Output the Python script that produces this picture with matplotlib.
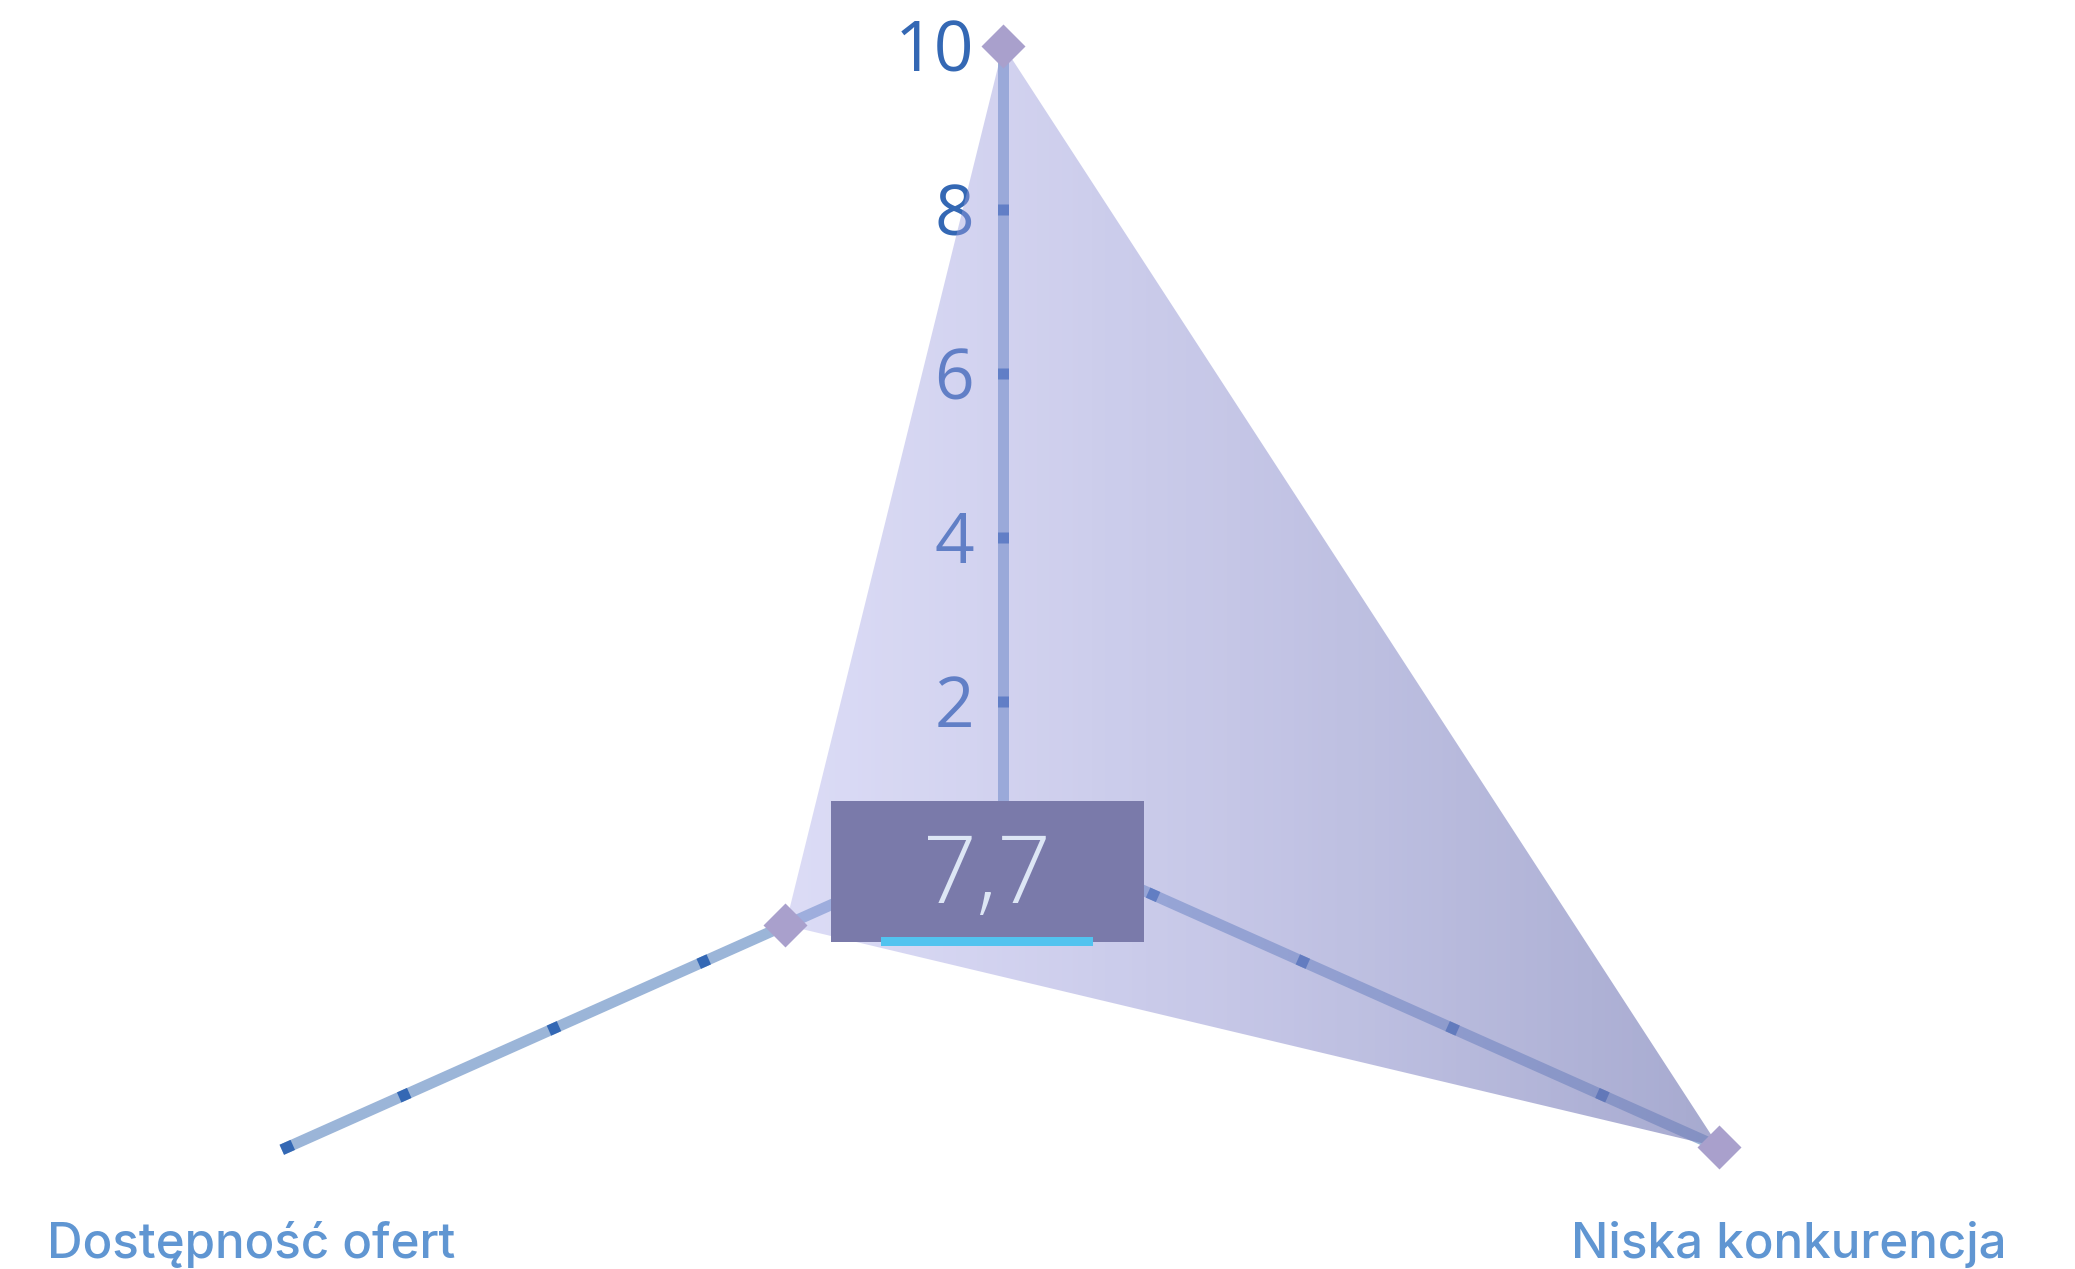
import numpy as np
import matplotlib
matplotlib.use("Agg")
import matplotlib.pyplot as plt
from matplotlib.patches import Polygon, Rectangle

# ---------------- data ----------------
categories = ["", "Niska konkurencja", "Dostępność ofert"]   # top, right, left
values = [10, 10, 3]
tick_values = [2, 4, 6, 8]
tick_labels = ["2", "4", "6", "8", "10"]
max_value = 10

# ---------------- layout (pixel-like canvas) ----------------
W, H = 2075, 1269
fig = plt.figure(figsize=(W / 100, H / 100), dpi=100)
ax = fig.add_axes([0, 0, 1, 1])
ax.set_xlim(0, W)
ax.set_ylim(H, 0)
ax.axis("off")

# axis geometry: origin, direction angle (deg, screen, y down), px per unit for data
ang_b = np.degrees(np.arctan(0.446))
axes_geom = [
    dict(origin=(1003.3, 865.6), angle=-90.0, scale=82.0, length=820.0),          # top
    dict(origin=(1003.3, 828.0), angle=ang_b, scale=78.4, length=784.0),          # right
    dict(origin=(1003.3, 828.0), angle=180.0 - ang_b, scale=79.5, length=790.0),  # left
]
tick_scale = 82.0

LINE_C = "#9bb5d8"
TICK_C = "#3468b4"
LW = 11 / 100 * 72


def pt(g, r):
    a = np.radians(g["angle"])
    return g["origin"][0] + r * np.cos(a), g["origin"][1] + r * np.sin(a)


# axis lines and ticks
for i, g in enumerate(axes_geom):
    x0, y0 = pt(g, 0)
    x1, y1 = pt(g, g["length"])
    ax.plot([x0, x1], [y0, y1], color=LINE_C, lw=LW, solid_capstyle="butt", zorder=1)
    for tv in tick_values:
        r = tv * tick_scale
        xa, ya = pt(g, r - 5.5)
        xb, yb = pt(g, r + 5.5)
        ax.plot([xa, xb], [ya, yb], color=TICK_C, lw=LW, solid_capstyle="butt", zorder=1.1)
    if i > 0:
        xa, ya = pt(g, g["length"] - 12)
        xb, yb = pt(g, g["length"])
        ax.plot([xa, xb], [ya, yb], color=TICK_C, lw=LW, solid_capstyle="butt", zorder=1.1)

# tick labels on top axis
gt = axes_geom[0]
for tv, lab in zip(tick_values + [max_value], tick_labels):
    x, y = pt(gt, tv * gt["scale"])
    ax.text(x - 29, y - 1, lab, ha="right", va="center_baseline", fontsize=50,
            family=["Open Sans", "DejaVu Sans"], color=TICK_C, zorder=1.2)

# data points
pts = [pt(g, v * g["scale"]) for g, v in zip(axes_geom, values)]
px = np.array([p[0] for p in pts])
py = np.array([p[1] for p in pts])

# gradient fill
poly = Polygon(np.column_stack([px, py]), closed=True, facecolor="none", edgecolor="none")
ax.add_patch(poly)
c_left = np.array([165, 165, 232]) / 255
c_right = np.array([121, 126, 183]) / 255
a_left, a_right = 0.39, 0.66
n = 256
t = np.linspace(0, 1, n)
grad = np.zeros((1, n, 4))
grad[0, :, :3] = c_left[None, :] * (1 - t[:, None]) + c_right[None, :] * t[:, None]
grad[0, :, 3] = a_left * (1 - t) + a_right * t
im = ax.imshow(grad, extent=[px.min(), px.max(), py.max(), py.min()],
               aspect="auto", interpolation="bilinear", zorder=2)
im.set_clip_path(poly)
ax.set_xlim(0, W)
ax.set_ylim(H, 0)

# markers
ax.plot(px, py, linestyle="none", marker="D", markersize=22.9,
        markerfacecolor="#a9a0cc", markeredgecolor="none", zorder=5)

# center value box
mean_val = np.mean(values)
bx, by, bw, bh = 831, 801, 313, 141
ax.add_patch(Rectangle((bx, by), bw, bh, facecolor="#7a7aaa", edgecolor="none", zorder=3))
ax.add_patch(Rectangle((881, 936.7), 211.7, 9, facecolor="#52c3ef", edgecolor="none", zorder=3.1))
ax.text(bx + bw / 2, 903, f"{mean_val:.1f}".replace(".", ","), ha="center", va="baseline",
        fontsize=68, fontweight="light", family=["Open Sans", "DejaVu Sans"],
        color="#dde6f5", zorder=4)

# category labels
LAB_C = "#6096d2"
ax.text(47, 1258, categories[2], ha="left", va="baseline", fontsize=35.5, fontweight="medium",
        family=["Inter", "DejaVu Sans"], color=LAB_C, zorder=4)
ax.text(2007, 1258, categories[1], ha="right", va="baseline", fontsize=35.5, fontweight="medium",
        family=["Inter", "DejaVu Sans"], color=LAB_C, zorder=4)

fig.savefig("out.png", dpi=100, facecolor="white")
